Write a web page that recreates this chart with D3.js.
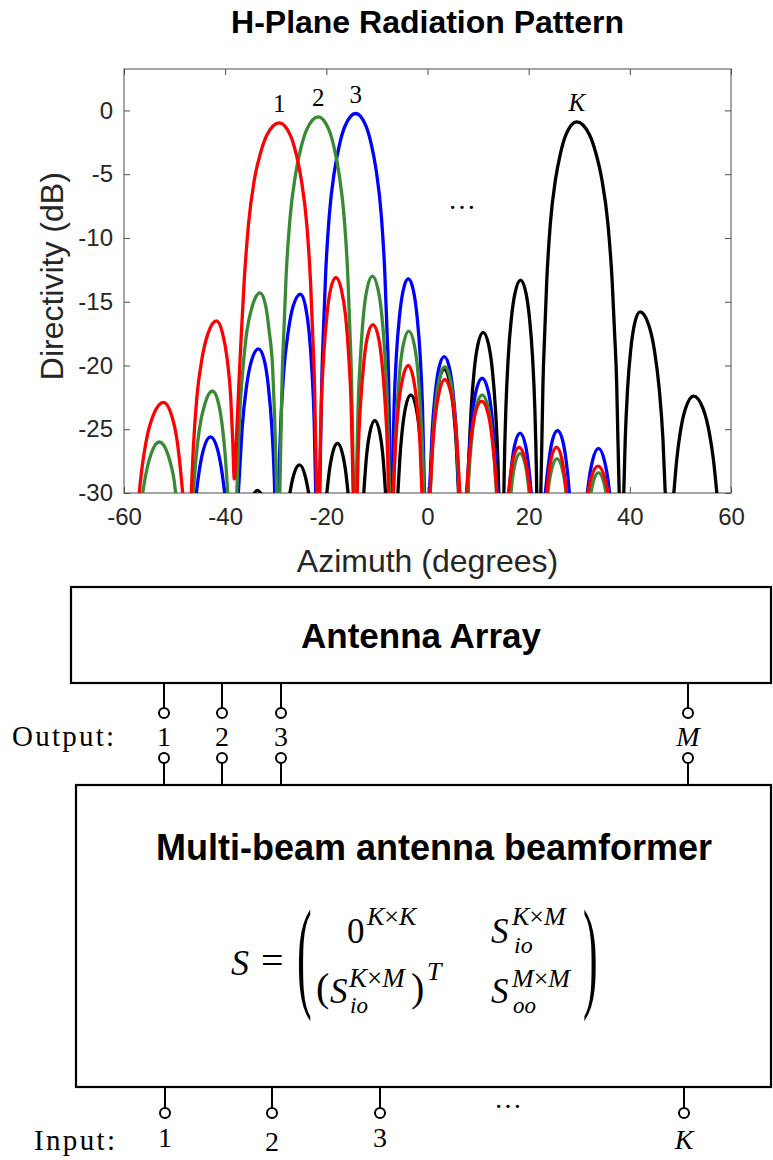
<!DOCTYPE html>
<html>
<head>
<meta charset="utf-8">
<script src="https://cdn.jsdelivr.net/npm/d3@7"></script>
<style>
    body { margin: 0; background: #fff; }
    #chart-area { width: 773px; height: 1160px; }
    text { font-family: "Liberation Sans", Arial, sans-serif; }
    text.serif { font-family: "Liberation Serif", "Times New Roman", serif; }
</style>
</head>
<body>
<div id="chart-area"></div>
<script>

// ---------- data ----------

var azimuthTicks = [-60, -40, -20, 0, 20, 40, 60];
var directivityTicks = [-30, -25, -20, -15, -10, -5, 0];

// each beam = list of lobes, each lobe = [azimuth (deg), directivity (dB)] points
var redLobes = [
    [[-57.0,-30],[-56.4,-27.9],[-55.6,-25.9],[-54.2,-23.9],[-52.2,-22.9],[-50.6,-23.9],[-49.5,-25.9],[-48.9,-27.9],[-48.4,-30]],
    [[-46.7,-30],[-46.3,-26.5],[-45.6,-22.5],[-44.6,-19.5],[-43.4,-17.5],[-41.7,-16.5],[-40.5,-17.5],[-39.6,-19.5],[-38.9,-22.5],[-38.5,-26],[-38.2,-28.9],
     [-37.8,-25.97],[-37.3,-21.47],[-36.8,-17.47],[-36.25,-13.47],[-35.4,-8.97],[-34.25,-5.47],[-33.1,-3.47],[-31.8,-1.97],[-29.3,-0.97],
     [-27.08,-1.97],[-25.93,-3.47],[-24.93,-5.47],[-23.86,-8.97],[-23.12,-13.47],[-22.71,-17.47],[-22.34,-21.47],[-22.12,-25.97],[-21.9,-30]],
    [[-21.4,-30],[-21.3,-28.1],[-21.0,-23.1],[-20.5,-19.1],[-19.9,-16.1],[-19.2,-14.1],[-18.1,-13.1],[-17.0,-14.1],[-16.2,-16.1],[-15.6,-19.1],[-15.1,-23.1],[-14.8,-28.1],[-14.7,-30]],
    [[-13.9,-30],[-13.7,-26.8],[-13.2,-22.8],[-12.6,-19.8],[-11.9,-17.8],[-10.8,-16.8],[-9.7,-17.8],[-9.0,-19.8],[-8.4,-22.8],[-7.9,-26.8],[-7.7,-30]],
    [[-6.8,-30],[-6.3,-26],[-5.7,-23],[-4.9,-21],[-3.8,-20],[-2.8,-21],[-2.1,-23],[-1.5,-26],[-1.1,-30]],
    [[0.5,-30],[0.9,-27.1],[1.5,-24.1],[2.3,-22.1],[3.4,-21.1],[4.6,-22.1],[5.4,-24.1],[6.0,-27.1],[6.4,-30]],
    [[7.7,-30],[8.1,-27.8],[8.6,-25.8],[9.4,-23.8],[10.7,-22.8],[12.0,-23.8],[12.8,-25.8],[13.3,-27.8],[13.7,-30]],
    [[16.0,-30],[16.5,-28.4],[16.9,-27.4],[18.1,-26.4],[19.3,-27.4],[19.8,-28.4],[20.3,-30]],
    [[23.6,-30],[24.0,-28.4],[24.4,-27.4],[25.5,-26.4],[26.6,-27.4],[27.0,-28.4],[27.5,-30]],
    [[31.7,-30],[32.3,-28.9],[33.7,-27.9],[35.1,-28.9],[35.7,-30]]
];

var greenLobes = [
    [[-56.3,-30],[-55.9,-29],[-55.4,-28],[-54.7,-27],[-53.0,-26],[-51.3,-27],[-50.6,-28],[-50.1,-29],[-49.8,-30]],
    [[-46.3,-30],[-45.7,-27],[-45.1,-25],[-44.0,-23],[-42.5,-22],[-41.3,-23],[-40.5,-25],[-40.0,-27],[-39.5,-30]],
    [[-37.7,-30],[-37.2,-24.3],[-36.5,-20.3],[-35.7,-17.3],[-34.6,-15.3],[-33.1,-14.3],[-32.0,-15.3],[-31.3,-17.3],[-30.6,-20.3],[-30.2,-24.3],[-29.8,-30]],
    [[-29.2,-30],[-28.97,-25.5],[-28.74,-21],[-28.36,-17],[-27.95,-13],[-27.19,-8.5],[-26.08,-5],[-25.06,-3],[-23.88,-1.5],[-21.6,-0.5],
     [-19.5,-1.5],[-18.41,-3],[-17.47,-5],[-16.45,-8.5],[-15.75,-13],[-15.37,-17],[-15.02,-21],[-14.81,-25.5],[-14.6,-30]],
    [[-14.1,-30],[-14.0,-28],[-13.7,-23],[-13.2,-19],[-12.65,-16],[-11.95,-14],[-10.9,-13],[-9.8,-14],[-9.05,-16],[-8.45,-19],[-7.95,-23],[-7.6,-28],[-7.5,-30]],
    [[-6.7,-30],[-6.5,-27.3],[-6.0,-23.3],[-5.45,-20.3],[-4.75,-18.3],[-3.7,-17.3],[-2.65,-18.3],[-1.95,-20.3],[-1.4,-23.3],[-0.9,-27.3],[-0.7,-30]],
    [[0.55,-30],[1.0,-26.1],[1.6,-23.1],[2.3,-21.1],[3.4,-20.1],[4.5,-21.1],[5.2,-23.1],[5.8,-26.1],[6.25,-30]],
    [[7.95,-30],[8.4,-27.3],[8.85,-25.3],[9.6,-23.3],[10.8,-22.3],[12.0,-23.3],[12.75,-25.3],[13.2,-27.3],[13.65,-30]],
    [[16.5,-30],[16.8,-28.9],[17.2,-27.9],[18.3,-26.9],[19.4,-27.9],[19.8,-28.9],[20.1,-30]],
    [[23.8,-30],[24.0,-29.3],[24.45,-28.3],[25.6,-27.3],[26.75,-28.3],[27.2,-29.3],[27.4,-30]],
    [[32.3,-30],[32.6,-29.4],[33.8,-28.4],[35.0,-29.4],[35.3,-30]]
];

var blueLobes = [
    [[-45.7,-30],[-45.25,-28.6],[-44.85,-27.6],[-44.3,-26.6],[-42.9,-25.6],[-41.5,-26.6],[-40.95,-27.6],[-40.55,-28.6],[-40.1,-30]],
    [[-37.4,-30],[-37.2,-28.7],[-36.6,-24.7],[-35.8,-21.7],[-34.85,-19.7],[-33.4,-18.7],[-32.2,-19.7],[-31.45,-21.7],[-30.8,-24.7],[-30.3,-28.7],[-30.2,-30]],
    [[-29.5,-30],[-29.0,-24.4],[-28.4,-20.4],[-27.55,-17.4],[-26.6,-15.4],[-25.1,-14.4],[-24.1,-15.4],[-23.4,-17.4],[-22.85,-20.4],[-22.4,-24.4],[-22.1,-30]],
    [[-21.3,-30],[-21.09,-25.24],[-20.87,-20.74],[-20.52,-16.74],[-20.13,-12.74],[-19.42,-8.24],[-18.39,-4.74],[-17.43,-2.74],[-16.33,-1.24],[-14.2,-0.24],
     [-12.13,-1.24],[-11.06,-2.74],[-10.13,-4.74],[-9.13,-8.24],[-8.44,-12.74],[-8.06,-16.74],[-7.71,-20.74],[-7.51,-25.24],[-7.3,-30]],
    [[-7.0,-30],[-6.9,-28.2],[-6.6,-23.2],[-6.15,-19.2],[-5.55,-16.2],[-4.85,-14.2],[-3.8,-13.2],[-2.75,-14.2],[-2.05,-16.2],[-1.45,-19.2],[-1.0,-23.2],[-0.7,-28.2],[-0.6,-30]],
    [[0.4,-30],[0.9,-25.3],[1.5,-22.3],[2.2,-20.3],[3.3,-19.3],[4.4,-20.3],[5.1,-22.3],[5.7,-25.3],[6.2,-30]],
    [[7.8,-30],[8.2,-27],[8.85,-24],[9.6,-22],[10.8,-21],[12.0,-22],[12.75,-24],[13.4,-27],[13.8,-30]],
    [[16.1,-30],[16.5,-28.3],[17.2,-26.3],[18.3,-25.3],[19.4,-26.3],[20.1,-28.3],[20.5,-30]],
    [[23.3,-30],[23.8,-28.1],[24.55,-26.1],[25.7,-25.1],[26.85,-26.1],[27.6,-28.1],[28.05,-30]],
    [[31.6,-30],[32.1,-28.5],[32.6,-27.5],[33.8,-26.5],[35.0,-27.5],[35.5,-28.5],[36.0,-30]]
];

var blackLobes = [
    [[-34.2,-30],[-33.6,-29.8],[-33.0,-30]],
    [[-27.2,-30],[-26.6,-28.8],[-25.3,-27.8],[-24.1,-28.8],[-23.5,-30]],
    [[-19.9,-30],[-19.35,-28.1],[-18.9,-27.1],[-17.8,-26.1],[-16.7,-27.1],[-16.25,-28.1],[-15.7,-30]],
    [[-12.6,-30],[-12.1,-27.3],[-11.42,-25.3],[-10.4,-24.3],[-9.42,-25.3],[-8.77,-27.3],[-8.3,-30]],
    [[-5.86,-30],[-5.47,-27.3],[-5.05,-25.3],[-4.35,-23.3],[-3.3,-22.3],[-2.25,-23.3],[-1.55,-25.3],[-1.13,-27.3],[-0.74,-30]],
    [[0.47,-30],[0.9,-26.3],[1.5,-23.3],[2.22,-21.3],[3.3,-20.3],[4.38,-21.3],[5.1,-23.3],[5.7,-26.3],[6.13,-30]],
    [[8.0,-30],[8.19,-27.4],[8.64,-23.4],[9.23,-20.4],[9.94,-18.4],[11.0,-17.4],[12.1,-18.4],[12.83,-20.4],[13.43,-23.4],[13.91,-27.4],[14.1,-30]],
    [[15.1,-30],[15.17,-28.3],[15.5,-23.3],[15.97,-19.3],[16.58,-16.3],[17.31,-14.3],[18.4,-13.3],[19.46,-14.3],[20.17,-16.3],[20.76,-19.3],[21.21,-23.3],[21.53,-28.3],[21.6,-30]],
    [[22.4,-30],[22.61,-25.9],[22.83,-21.4],[23.18,-17.4],[23.57,-13.4],[24.28,-8.9],[25.31,-5.4],[26.27,-3.4],[27.37,-1.9],[29.5,-0.9],
     [32.02,-1.9],[33.32,-3.4],[34.46,-5.4],[35.67,-8.9],[36.51,-13.4],[36.98,-17.4],[37.4,-21.4],[37.65,-25.9],[37.9,-30]],
    [[38.8,-30],[39.09,-25.8],[39.56,-21.8],[40.17,-18.8],[40.9,-16.8],[42.0,-15.8],[43.72,-16.8],[44.86,-18.8],[45.8,-21.8],[46.55,-25.8],[47.0,-30]],
    [[48.7,-30],[49.27,-27.4],[49.91,-25.4],[50.99,-23.4],[52.6,-22.4],[54.5,-23.4],[55.77,-25.4],[56.53,-27.4],[57.2,-30]]
];

var beamNames = ["K", "3", "2", "1"];          // drawing order: black, blue, green, red
var outputLabels = ["1", "2", "3", "M"];
var inputLabels = ["1", "2", "3", "K"];


/*
 * PatternVis - H-plane radiation pattern (top half)
 */

PatternVis = function(_svg, _beams) {
    this.svg = _svg;
    this.beams = _beams;

    this.initVis();
}

PatternVis.prototype.initVis = function() {
    var vis = this;

    vis.margin = {top: 69, right: 42, bottom: 667, left: 124};
    vis.width = 773 - vis.margin.left - vis.margin.right;
    vis.height = 1160 - vis.margin.top - vis.margin.bottom;

    vis.g = vis.svg.append("g")
        .attr("transform", "translate(" + vis.margin.left + "," + vis.margin.top + ")");

    vis.x = d3.scaleLinear().domain([-60, 60]).range([0, vis.width]);
    vis.y = d3.scaleLinear().domain([-30, 3.25]).range([vis.height, 0]);

    vis.g.append("clipPath").attr("id", "plot-clip")
        .append("rect")
        .attr("width", vis.width)
        .attr("height", vis.height);

    vis.line = d3.line()
        .x(function(d) { return vis.x(d[0]); })
        .y(function(d) { return vis.y(d[1]); })
        .curve(d3.curveMonotoneX);

    vis.updateVis();
}

PatternVis.prototype.updateVis = function() {
    var vis = this;
    var axisColor = "#4d4d4d";

    // axes, MATLAB style: ticks pointing inside on all four sides
    vis.g.append("g")
        .attr("transform", "translate(0," + vis.height + ")")
        .call(d3.axisBottom(vis.x).tickValues(azimuthTicks).tickSizeInner(-6).tickSizeOuter(0)
            .tickPadding(15).tickFormat(function(d) { return String(d); }));

    vis.g.append("g")
        .call(d3.axisLeft(vis.y).tickValues(directivityTicks).tickSizeInner(-6).tickSizeOuter(0)
            .tickPadding(11).tickFormat(function(d) { return String(d); }));

    vis.g.append("g")
        .call(d3.axisTop(vis.x).tickValues(azimuthTicks).tickSizeInner(-6).tickSizeOuter(0).tickFormat(""));

    vis.g.append("g")
        .attr("transform", "translate(" + vis.width + ",0)")
        .call(d3.axisRight(vis.y).tickValues(directivityTicks).tickSizeInner(-6).tickSizeOuter(0).tickFormat(""));

    vis.g.selectAll(".domain").remove();
    vis.g.selectAll(".tick line").attr("stroke", axisColor);
    vis.g.selectAll(".tick text")
        .attr("fill", "#262626")
        .style("font-size", "24px")
        .style("font-family", "'Liberation Sans', Arial, sans-serif");

    vis.g.append("rect")
        .attr("width", vis.width)
        .attr("height", vis.height)
        .attr("fill", "none")
        .attr("stroke", axisColor)
        .attr("stroke-width", 1);

    // pattern curves
    var colors = {"1": "#ff0000", "2": "#3a8a35", "3": "#0000ff", "K": "#000000"};

    var curves = vis.g.append("g").attr("clip-path", "url(#plot-clip)");

    vis.beams.forEach(function(beam) {
        curves.append("g")
            .selectAll("path")
            .data(beam.lobes)
            .enter()
            .append("path")
            .attr("d", vis.line)
            .attr("fill", "none")
            .attr("stroke", colors[beam.name])
            .attr("stroke-width", 3.3)
            .attr("stroke-linecap", "square")
            .attr("stroke-linejoin", "round");
    });

    // beam numbers above each main lobe
    vis.beams.forEach(function(beam) {
        var peak = d3.greatest(d3.merge(beam.lobes), function(d) { return d[1]; });
        vis.g.append("text")
            .attr("class", "serif")
            .attr("x", vis.x(peak[0]))
            .attr("y", vis.y(peak[1]) - 11)
            .attr("text-anchor", "middle")
            .style("font-size", "25px")
            .style("font-style", beam.name === "K" ? "italic" : "normal")
            .text(beam.name);
    });

    vis.g.append("text")
        .attr("class", "serif")
        .attr("x", vis.x(6.8))
        .attr("y", vis.y(-7.7))
        .attr("text-anchor", "middle")
        .style("font-size", "28px")
        .text("\u2026");

    // titles
    vis.svg.append("text")
        .attr("x", vis.margin.left + vis.width / 2)
        .attr("y", 33)
        .attr("text-anchor", "middle")
        .style("font-size", "32px")
        .style("font-weight", "bold")
        .attr("fill", "#000")
        .text("H-Plane Radiation Pattern");

    vis.svg.append("text")
        .attr("x", vis.margin.left + vis.width / 2)
        .attr("y", 572)
        .attr("text-anchor", "middle")
        .style("font-size", "32px")
        .attr("fill", "#262626")
        .text("Azimuth (degrees)");

    vis.svg.append("text")
        .attr("transform", "translate(63," + (vis.margin.top + vis.y(-13)) + ") rotate(-90)")
        .attr("text-anchor", "middle")
        .style("font-size", "32px")
        .attr("fill", "#262626")
        .text("Directivity (dB)");
}


/*
 * DiagramVis - antenna array / beamformer block diagram (bottom half)
 */

DiagramVis = function(_svg) {
    this.svg = _svg;
    this.initVis();
}

DiagramVis.prototype.initVis = function() {
    var vis = this;

    vis.g = vis.svg.append("g");

    // boxes
    vis.g.append("rect")
        .attr("x", 71).attr("y", 587).attr("width", 700).attr("height", 96)
        .attr("fill", "none").attr("stroke", "#000").attr("stroke-width", 2.2);

    vis.g.append("rect")
        .attr("x", 76).attr("y", 785).attr("width", 695).attr("height", 302)
        .attr("fill", "none").attr("stroke", "#000").attr("stroke-width", 2.2);

    vis.g.append("text")
        .attr("x", 421).attr("y", 648)
        .attr("text-anchor", "middle")
        .style("font-size", "35px").style("font-weight", "bold")
        .text("Antenna Array");

    vis.g.append("text")
        .attr("x", 434).attr("y", 860)
        .attr("text-anchor", "middle")
        .style("font-size", "36px").style("font-weight", "bold")
        .text("Multi-beam antenna beamformer");

    // output ports between the two boxes
    var outX = [164, 222, 281, 688];
    var outs = vis.g.selectAll(".out-port")
        .data(outputLabels)
        .enter()
        .append("g")
        .attr("class", "out-port")
        .attr("transform", function(d, i) { return "translate(" + outX[i] + ",0)"; });

    outs.append("line").attr("y1", 683).attr("y2", 708);
    outs.append("line").attr("y1", 763).attr("y2", 785);
    outs.selectAll("line").attr("stroke", "#000").attr("stroke-width", 2);
    outs.append("circle").attr("cy", 713);
    outs.append("circle").attr("cy", 758);
    outs.selectAll("circle")
        .attr("r", 5).attr("fill", "#fff").attr("stroke", "#000").attr("stroke-width", 2);
    outs.append("text")
        .attr("class", "serif")
        .attr("y", 746)
        .attr("text-anchor", "middle")
        .style("font-size", "28px")
        .style("font-style", function(d) { return d === "M" ? "italic" : "normal"; })
        .text(function(d) { return d; });

    vis.g.append("text")
        .attr("class", "serif")
        .attr("x", 12).attr("y", 746)
        .attr("textLength", 102)
        .style("font-size", "29px")
        .text("Output:");

    // input ports below the beamformer
    var inX = [165, 272, 380, 684];
    var inDy = [0, 4, 0, 2];
    var ins = vis.g.selectAll(".in-port")
        .data(inputLabels)
        .enter()
        .append("g")
        .attr("class", "in-port")
        .attr("transform", function(d, i) { return "translate(" + inX[i] + ",0)"; });

    ins.append("line").attr("y1", 1087).attr("y2", 1108)
        .attr("stroke", "#000").attr("stroke-width", 2);
    ins.append("circle").attr("cy", 1113)
        .attr("r", 5).attr("fill", "#fff").attr("stroke", "#000").attr("stroke-width", 2);
    ins.append("text")
        .attr("class", "serif")
        .attr("y", function(d, i) { return 1147 + inDy[i]; })
        .attr("text-anchor", "middle")
        .style("font-size", "28px")
        .style("font-style", function(d) { return d === "K" ? "italic" : "normal"; })
        .text(function(d) { return d; });

    vis.g.append("text")
        .attr("class", "serif")
        .attr("x", 34).attr("y", 1150)
        .attr("textLength", 81)
        .style("font-size", "29px")
        .text("Input:");

    vis.g.append("text")
        .attr("class", "serif")
        .attr("x", 508).attr("y", 1108)
        .attr("text-anchor", "middle")
        .style("font-size", "28px")
        .text("\u2026");

    vis.drawFormula();
}

DiagramVis.prototype.drawFormula = function() {
    var vis = this;
    var f = vis.g.append("g");

    // one serif text item; pieces = [[string, italic], ...]
    function put(x, y, size, pieces) {
        var t = f.append("text")
            .attr("class", "serif")
            .attr("x", x).attr("y", y)
            .style("font-size", size + "px");
        pieces.forEach(function(p) {
            t.append("tspan")
                .style("font-style", p[1] ? "italic" : "normal")
                .text(p[0]);
        });
        return t;
    }

    put(231, 975, 36, [["S", true]]);
    put(261, 974, 40, [["=", false]]);

    // tall brackets
    f.append("text").attr("class", "serif")
        .attr("transform", "translate(297,995) scale(1,2.8)")
        .style("font-size", "44px").text("(");
    f.append("text").attr("class", "serif")
        .attr("transform", "translate(583,995) scale(1,2.8)")
        .style("font-size", "44px").text(")");

    // top row
    put(347, 943, 35, [["0", false]]);
    put(367, 925, 26, [["K", true], ["\u00d7", false], ["K", true]]);
    put(491, 943, 35, [["S", true]]);
    put(512, 925, 26, [["K", true], ["\u00d7", false], ["M", true]]);
    put(514, 953, 24, [["io", true]]);

    // bottom row
    put(316, 1001, 40, [["(", false]]);
    put(330, 1003, 35, [["S", true]]);
    put(349, 987, 27, [["K", true], ["\u00d7", false], ["M", true]]);
    put(350, 1013, 23, [["io", true]]);
    put(411, 1001, 40, [[")", false]]);
    put(427, 980, 26, [["T", true]]);
    put(491, 1003, 35, [["S", true]]);
    put(512, 987, 26, [["M", true], ["\u00d7", false], ["M", true]]);
    put(513, 1013, 23, [["oo", true]]);
}


// ---------- build ----------

var svg = d3.select("#chart-area").append("svg")
    .attr("width", 773)
    .attr("height", 1160);

var beams = [
    {name: beamNames[0], lobes: blackLobes},
    {name: beamNames[1], lobes: blueLobes},
    {name: beamNames[2], lobes: greenLobes},
    {name: beamNames[3], lobes: redLobes}
];

var patternVis = new PatternVis(svg, beams);
var diagramVis = new DiagramVis(svg);

</script>
</body>
</html>
